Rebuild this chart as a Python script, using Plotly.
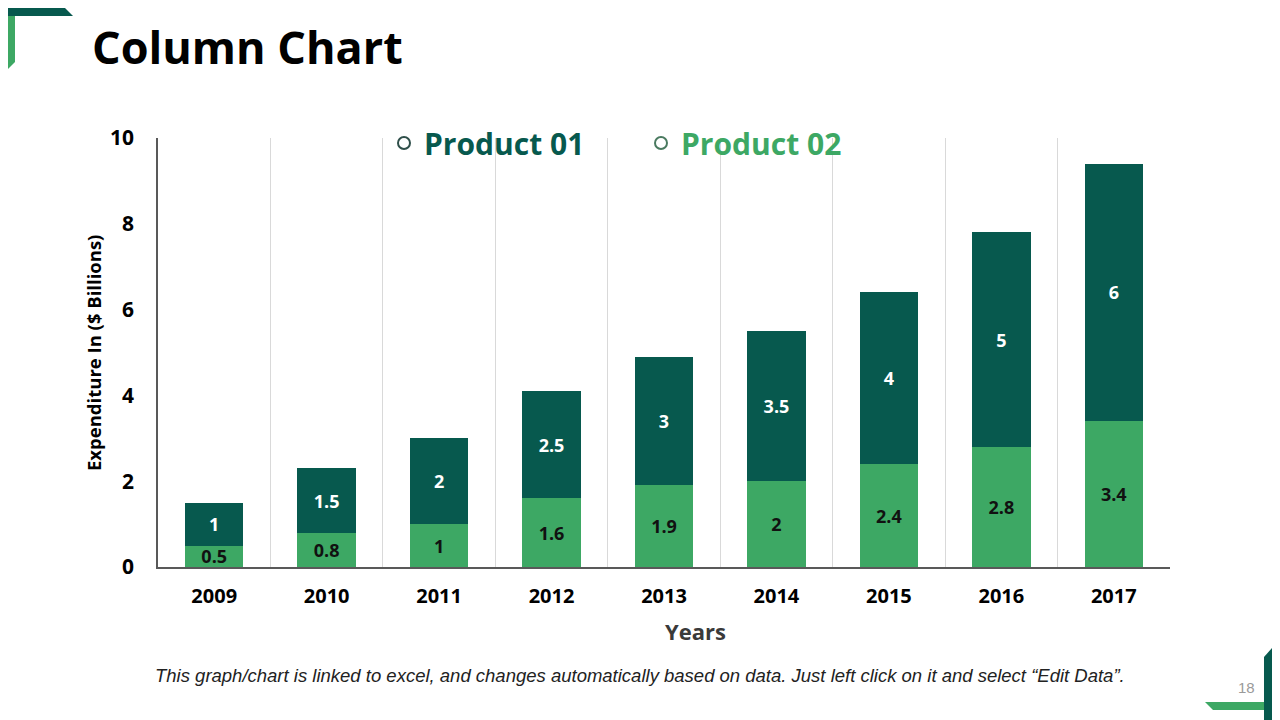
import plotly.graph_objects as go

years = ["2009", "2010", "2011", "2012", "2013", "2014", "2015", "2016", "2017"]
product_02 = [0.5, 0.8, 1, 1.6, 1.9, 2, 2.4, 2.8, 3.4]
product_01 = [1, 1.5, 2, 2.5, 3, 3.5, 4, 5, 6]
y_ticks = [0, 2, 4, 6, 8, 10]

DARK = "#07594E"
LIGHT = "#3DA864"
FONT = "Open Sans"

OFF = 8  # page body margin
W, H = 1280 - OFF, 720 - OFF
L, R, T, B = 158, 1170, 138, 567  # plot area in screen pixels


def px(x):
    return (x - L) / (R - L)


def py(y):
    return (B - y) / (B - T)


fig = go.Figure()
fig.add_trace(go.Bar(
    x=years, y=product_02, name="Product 02", marker=dict(color=LIGHT, line=dict(width=0)),
    text=[str(v) for v in product_02], textposition="inside", insidetextanchor="middle",
    textangle=0, constraintext="none",
    textfont=dict(family=FONT, size=18, color="#111111", weight="bold"),
    showlegend=False, hoverinfo="x+y",
))
fig.add_trace(go.Bar(
    x=years, y=product_01, name="Product 01", marker=dict(color=DARK, line=dict(width=0)),
    text=[str(v) for v in product_01], textposition="inside", insidetextanchor="middle",
    textangle=0, constraintext="none",
    textfont=dict(family=FONT, size=18, color="white", weight="bold"),
    showlegend=False, hoverinfo="x+y",
))
# legend entries (open circle markers)
fig.add_trace(go.Scatter(
    x=[None], y=[None], mode="markers", name="<span style='color:%s'>Product 01</span>" % DARK,
    marker=dict(symbol="circle-open", size=18, color="#2f4f4a", line=dict(width=1.5)),
    legend="legend",
))
fig.add_trace(go.Scatter(
    x=[None], y=[None], mode="markers", name="<span style='color:%s'>Product 02</span>" % LIGHT,
    marker=dict(symbol="circle-open", size=18, color="#4a7a60", line=dict(width=1.5)),
    legend="legend2",
))


def poly(points, color):
    d = "M " + " L ".join("%f %f" % (px(x), py(y)) for x, y in points) + " Z"
    return dict(type="path", xref="paper", yref="paper", path=d,
                fillcolor=color, line=dict(width=0), layer="above")


shapes = [
    # top-left decoration
    poly([(6, 0), (15, 0), (15, 62), (6, 71)], LIGHT),
    poly([(0, 7), (64, 7), (73, 16), (0, 16)], DARK),
    # bottom-right decoration
    poly([(1205, 702), (1280, 702), (1280, 710), (1213, 710)], LIGHT),
    poly([(1264, 657), (1272, 648), (1272, 720), (1264, 720)], DARK),
]

annotations = [
    dict(text="<b>Column Chart</b>", x=px(90), y=py(47), xref="paper", yref="paper",
         xanchor="left", yanchor="middle", showarrow=False,
         font=dict(family=FONT, size=45, color="#000000")),
    dict(text="<b>Years</b>", x=px(695), y=py(631), xref="paper", yref="paper",
         xanchor="center", yanchor="middle", showarrow=False,
         font=dict(family=FONT, size=22, color="#3a3a3a")),
    dict(text="<b>Expenditure In ($ Billions)</b>", x=px(93), y=py(353), xref="paper", yref="paper",
         xanchor="center", yanchor="middle", showarrow=False, textangle=-90,
         font=dict(family=FONT, size=18.5, color="#000000")),
    dict(text="<i>This graph/chart is linked to excel, and changes automatically based on data. Just left click on it and select \u201cEdit Data\u201d.</i>",
         x=px(640), y=py(675), xref="paper", yref="paper", xanchor="center", yanchor="middle",
         showarrow=False, font=dict(family="Liberation Sans", size=18.5, color="#222222")),
    dict(text="18", x=px(1246), y=py(687), xref="paper", yref="paper", xanchor="center",
         yanchor="middle", showarrow=False, font=dict(family="Liberation Sans", size=15, color="#9a9a9a")),
]

fig.update_layout(
    width=W, height=H,
    margin=dict(l=L - OFF, r=W - (R - OFF), t=T - OFF, b=H - (B - OFF), autoexpand=False),
    paper_bgcolor="white", plot_bgcolor="white",
    barmode="stack", bargap=0.48,
    font=dict(family=FONT, color="#000000"),
    shapes=shapes, annotations=annotations,
    legend=dict(orientation="h", x=px(384), y=py(143), xanchor="left", yanchor="middle",
                bgcolor="rgba(0,0,0,0)", font=dict(family=FONT, size=30, weight="bold"),
                itemsizing="constant"),
    legend2=dict(orientation="h", x=px(641), y=py(143), xanchor="left", yanchor="middle",
                 bgcolor="rgba(0,0,0,0)", font=dict(family=FONT, size=30, weight="bold"),
                 itemsizing="constant"),
)
fig.update_xaxes(
    type="category", tickson="boundaries", showgrid=True, gridcolor="#d9d9d9", gridwidth=1,
    showline=True, linecolor="#595959", linewidth=1.5, ticks="",
    tickfont=dict(family=FONT, size=20, color="#000000", weight="bold"), ticklabelstandoff=10,
)
fig.update_yaxes(
    range=[0, 10], tickvals=y_ticks, showgrid=False, zeroline=False,
    showline=True, linecolor="#595959", linewidth=1.5, ticks="",
    tickfont=dict(family=FONT, size=21, color="#000000", weight="bold"), ticklabelstandoff=18,
)

fig.write_html("out.html")
